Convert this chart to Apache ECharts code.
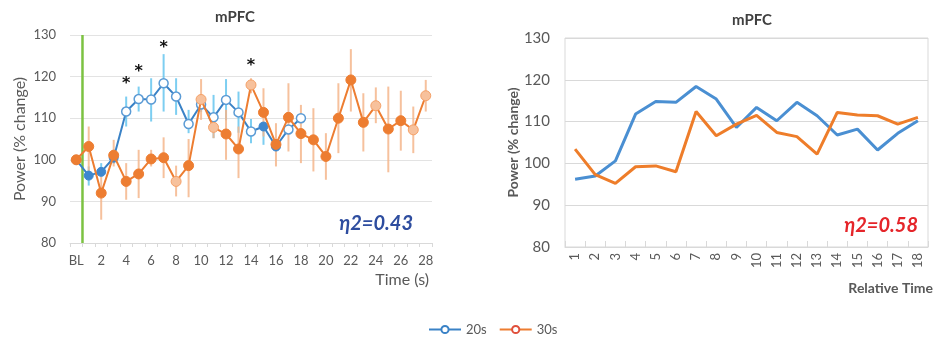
<!DOCTYPE html>
<html><head><meta charset="utf-8">
<script src="https://cdn.jsdelivr.net/npm/echarts@6/dist/echarts.min.js"></script>
<style>html,body{margin:0;padding:0;background:#fff}#c{width:935px;height:344px}</style>
</head><body><div id="c"></div>
<script>
// ---------- data: left chart (time course) ----------
const timeCats = ['BL','1','2','3','4','5','6','7','8','9','10','11','12','13','14','15','16','17','18','19','20','21','22','23','24','25','26','27','28'];
const s20 = [100,96.2,97.1,100.5,111.6,114.6,114.5,118.4,115.2,108.6,113.3,110.2,114.4,111.4,106.8,108.0,103.2,107.3,110.0];
const s20Lo = [null,93.8,96.0,99.0,108.0,111.6,109.2,111.6,110.8,106.4,111.5,105.2,109.5,106.5,104.0,103.6,102.0,null,null];
const s20Hi = [null,98.4,99.2,102.5,115.2,117.6,119.6,125.4,119.6,112.0,115.0,115.6,119.4,116.4,109.8,109.0,104.5,null,null];
const s20Open = [4,5,6,7,8,9,10,11,12,13,14,17,18];
const s30 = [100,103.2,92.0,101.1,94.8,96.6,100.2,100.5,94.8,98.6,114.5,107.8,106.2,102.6,118.0,111.4,103.7,110.2,106.3,104.8,100.8,110.0,119.2,109.0,113.0,107.4,109.4,107.2,115.4];
const s30Lo = [null,97.0,85.6,98.4,90.4,90.8,98.4,95.6,91.2,91.0,109.6,105.2,100.0,95.6,116.0,105.6,98.4,102.0,99.2,97.2,95.2,101.6,111.6,102.0,108.8,97.0,102.2,101.6,111.6];
const s30Hi = [null,108.0,96.0,104.8,99.2,102.4,102.4,105.4,98.6,105.0,119.4,110.8,112.0,108.0,119.6,117.2,108.8,118.4,113.2,112.4,106.4,118.4,126.6,116.0,117.4,117.6,116.6,112.8,119.2];
const s30Light = [8,10,11,14,24,27,28];
const sigIdx = [4,5,7,14];
const sigY = [119.3,122.2,127.8,123.6];
const onsetX = [0.5];

// ---------- data: right chart (relative time) ----------
const relCats = ['1','2','3','4','5','6','7','8','9','10','11','12','13','14','15','16','17','18'];
const rel20 = [96.2,97.0,100.6,111.8,114.8,114.6,118.4,115.4,108.6,113.4,110.2,114.6,111.4,106.8,108.2,103.2,107.2,110.2];
const rel30 = [103.4,97.3,95.2,99.2,99.4,98.0,112.4,106.6,109.4,111.5,107.4,106.4,102.2,112.2,111.6,111.4,109.4,111.0];

const yTicks = {min:80, max:130, interval:10};
const FONT = 'Lato';
const GRAY = '#595959';
const BLUE = '#3a82c6', BLUE_BAR = '#66c6ef';
const ORANGE = '#ed7d31', ORANGE_BAR = '#f5b68c';

function errBar(lo, hi, color) {
  const d = [];
  lo.forEach((v, i) => { if (v != null) d.push([i, v, hi[i]]); });
  return {
    type: 'custom', xAxisIndex: 0, yAxisIndex: 0, z: 1, silent: true,
    data: d,
    renderItem: (params, api) => {
      const p1 = api.coord([api.value(0), api.value(1)]);
      const p2 = api.coord([api.value(0), api.value(2)]);
      return {type:'line', shape:{x1:p1[0], y1:p1[1], x2:p2[0], y2:p2[1]}, style:{stroke:color, lineWidth:2, opacity:0.85}};
    }
  };
}

const blueData = s20.map((v, i) => s20Open.includes(i)
  ? {value:v, itemStyle:{color:'#fff', borderColor:'#5b9bd5', borderWidth:1.5}}
  : {value:v, itemStyle:{color:'#3d87cf', borderColor:'#3d87cf', borderWidth:1}});
const orangeData = s30.map((v, i) => s30Light.includes(i)
  ? {value:v, itemStyle:{color:'#f7c19c', borderColor:'#f4a067', borderWidth:1}}
  : {value:v, itemStyle:{color:ORANGE, borderColor:ORANGE, borderWidth:1}});

const chart = echarts.init(document.getElementById('c'), null, {renderer:'canvas'});
chart.setOption({
  animation: false,
  textStyle: {fontFamily: FONT},
  grid: [
    {left:70, top:35, width:362, height:208},
    {left:565, top:38, width:363, height:209, show:true, borderColor:'#d9d9d9', borderWidth:1}
  ],
  xAxis: [
    {type:'category', gridIndex:0, data:timeCats, boundaryGap:true,
     axisLine:{lineStyle:{color:'#d9d9d9'}},
     axisTick:{show:true, interval:0, length:4, lineStyle:{color:'#d9d9d9'}},
     axisLabel:{interval:1, color:GRAY, fontSize:13, margin:11, fontFamily:FONT}},
    {type:'category', gridIndex:1, data:relCats, boundaryGap:true,
     axisLine:{lineStyle:{color:'#d9d9d9'}},
     axisTick:{show:true, inside:true, interval:0, length:6, lineStyle:{color:'#d9d9d9'}},
     axisLabel:{interval:0, rotate:90, color:GRAY, fontSize:13, margin:6, fontFamily:FONT}},
    {type:'value', gridIndex:0, min:-0.5, max:28.5, show:false}
  ],
  yAxis: [
    {type:'value', gridIndex:0, min:yTicks.min, max:yTicks.max, interval:yTicks.interval,
     axisLine:{show:false}, axisTick:{show:false},
     splitLine:{lineStyle:{color:'#e3e3e3'}},
     axisLabel:{color:GRAY, fontSize:13, margin:14, fontFamily:FONT},
     name:'Power (% change)', nameLocation:'middle', nameGap:42,
     nameTextStyle:{color:GRAY, fontSize:16, fontFamily:FONT}},
    {type:'value', gridIndex:1, min:yTicks.min, max:yTicks.max, interval:yTicks.interval,
     axisLine:{show:false}, axisTick:{show:false},
     splitLine:{lineStyle:{color:'#d9d9d9'}},
     axisLabel:{color:GRAY, fontSize:15, margin:15, fontFamily:FONT},
     name:'Power (% change)', nameLocation:'middle', nameGap:40,
     nameTextStyle:{color:GRAY, fontSize:14, fontWeight:'bold', fontFamily:FONT}}
  ],
  legend: {
    bottom: 3, left: 423, itemWidth: 32, itemHeight: 9, itemGap: 12,
    textStyle:{color:GRAY, fontSize:13, fontFamily:FONT},
    data: ['20s', '30s']
  },
  series: [
    {type:'line', xAxisIndex:2, yAxisIndex:0, data: onsetX.flatMap(x => [[x, yTicks.min],[x, yTicks.max]]),
     symbol:'none', lineStyle:{color:'#7cc242', width:2.5}, z:0, silent:true},
    errBar(s20Lo, s20Hi, BLUE_BAR),
    errBar(s30Lo, s30Hi, ORANGE_BAR),
    {name:'20s', type:'line', xAxisIndex:0, yAxisIndex:0, data:blueData, symbol:'circle', symbolSize:9,
     showSymbol:true, showAllSymbol:true,
     lineStyle:{color:BLUE, width:2}, itemStyle:{color:'#fff', borderColor:BLUE, borderWidth:1.5}, z:3},
    {name:'30s', type:'line', xAxisIndex:0, yAxisIndex:0, data:orangeData, symbol:'circle', symbolSize:10,
     showSymbol:true, showAllSymbol:true,
     lineStyle:{color:ORANGE, width:2}, itemStyle:{color:'#fff', borderColor:'#e0503c', borderWidth:1.5}, z:4},
    {type:'custom', xAxisIndex:0, yAxisIndex:0, z:5, silent:true,
     data: sigIdx.map((x, i) => [x, sigY[i]]),
     renderItem: (params, api) => {
       const p = api.coord([api.value(0), api.value(1)]);
       return {type:'text', x:p[0], y:p[1] + 4, style:{text:'*', fill:'#111', font:'bold 16px "DejaVu Sans"', textAlign:'center', textVerticalAlign:'middle'}};
     }},
    {name:'20s r', type:'line', xAxisIndex:1, yAxisIndex:1, data:rel20, symbol:'none',
     lineStyle:{color:'#4a8fd2', width:3}, itemStyle:{color:'#4a8fd2'}},
    {name:'30s r', type:'line', xAxisIndex:1, yAxisIndex:1, data:rel30, symbol:'none',
     lineStyle:{color:'#ee7d2a', width:3}, itemStyle:{color:'#ee7d2a'}}
  ],
  graphic: [
    {type:'text', x:235, y:17, style:{text:'mPFC', font:'bold 15px '+FONT, fill:'#404040', textAlign:'center', textVerticalAlign:'middle'}},
    {type:'text', x:752, y:20, style:{text:'mPFC', font:'bold 15px '+FONT, fill:'#404040', textAlign:'center', textVerticalAlign:'middle'}},
    {type:'text', x:429, y:280, style:{text:'Time (s)', font:'16px '+FONT, fill:GRAY, textAlign:'right', textVerticalAlign:'middle'}},
    {type:'text', x:933, y:288, style:{text:'Relative Time', font:'bold 14px '+FONT, fill:GRAY, textAlign:'right', textVerticalAlign:'middle'}},
    {type:'text', x:413, y:224, style:{text:'η2=0.43', font:'italic bold 20px '+FONT, fill:'#2e4d9f', textAlign:'right', textVerticalAlign:'middle'}},
    {type:'text', x:918, y:226, style:{text:'η2=0.58', font:'italic bold 20px '+FONT, fill:'#e5252a', textAlign:'right', textVerticalAlign:'middle'}}
  ]
});
</script>
</body></html>
